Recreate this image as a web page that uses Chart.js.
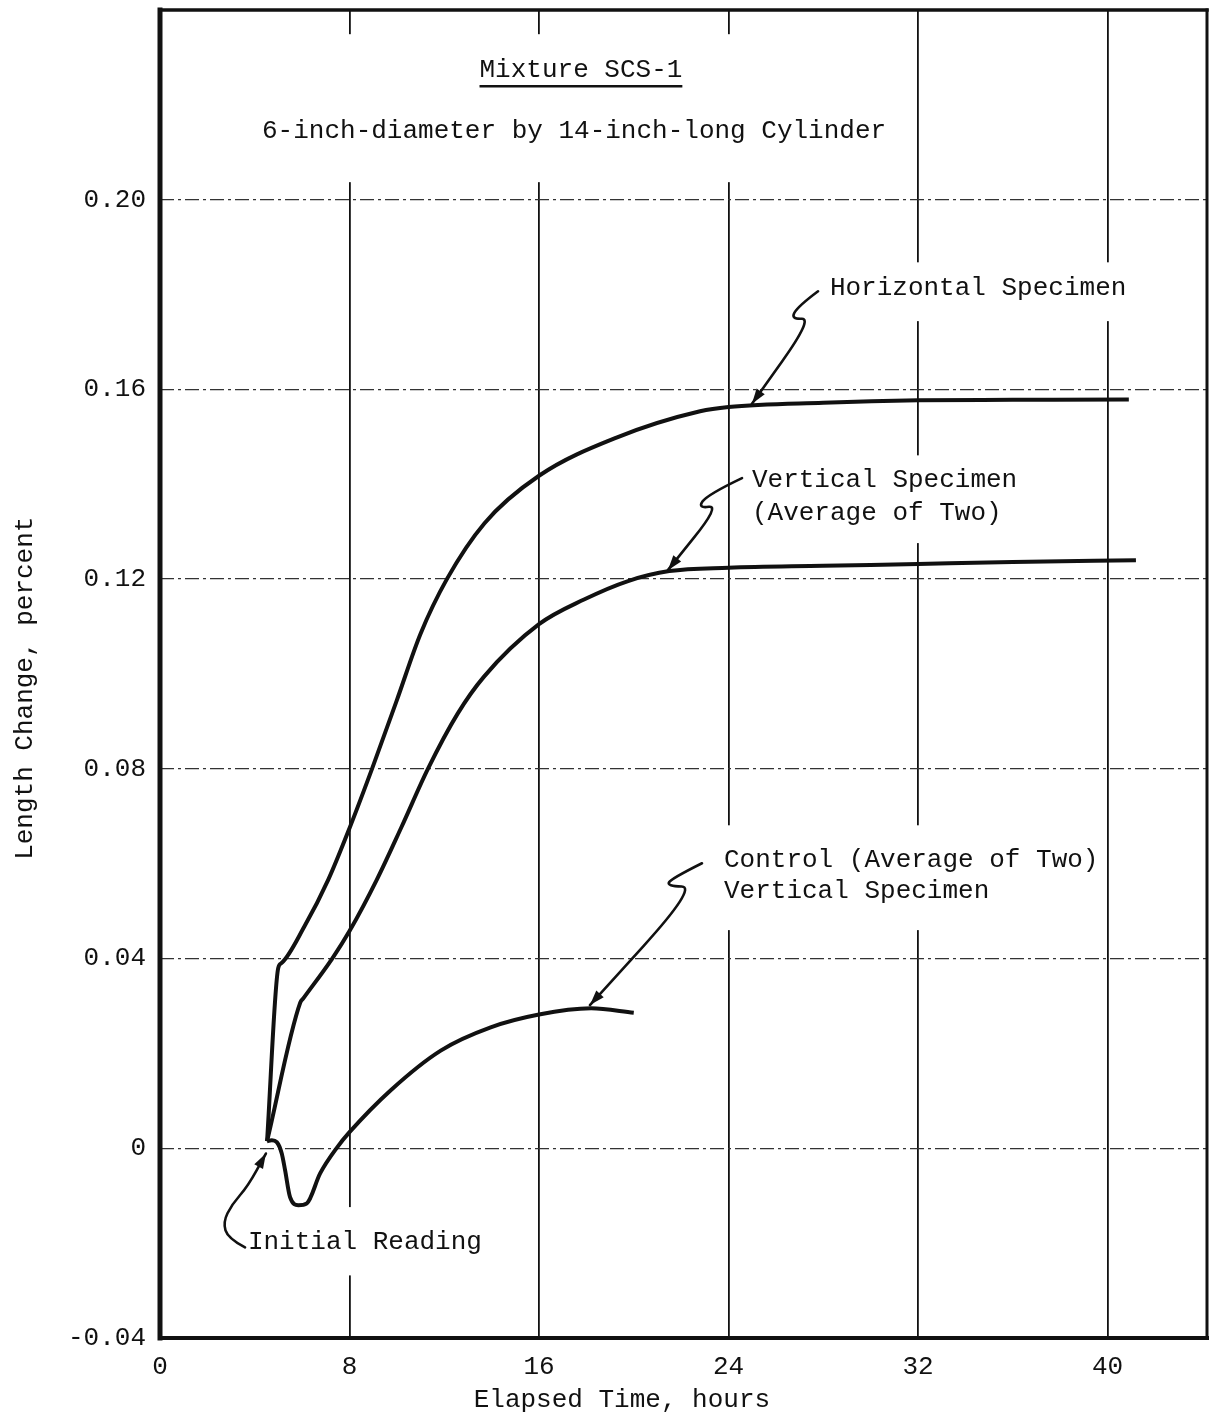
<!DOCTYPE html>
<html lang="en">
<head>
<meta charset="UTF-8">
<title>Mixture SCS-1 - Length Change</title>
<script src="https://cdn.jsdelivr.net/npm/chart.js"></script>
<style>
  html, body { margin: 0; padding: 0; background: #fff; }
  #wrap { width: 1215px; height: 1418px; }
</style>
</head>
<body>
<div id="wrap"><canvas id="lengthChart"></canvas></div>
<script>
// ticks
const xTicks = [0, 8, 16, 24, 32, 40];
const yTicks = [-0.04, 0, 0.04, 0.08, 0.12, 0.16, 0.20];
const yTickLabels = ['-0.04', '0', '0.04', '0.08', '0.12', '0.16', '0.20'];

// Horizontal Specimen
const horizontalHours  = [4.52, 4.99, 5.12, 6.1, 7.1, 8, 8.95, 10, 11, 12.11, 13.7, 16, 19.3, 22.8, 24, 28, 32, 36, 40.9];
const horizontalChange = [0.0015, 0.038, 0.039, 0.0468, 0.0566, 0.0675, 0.08, 0.0945, 0.1085, 0.12, 0.1318, 0.1418, 0.1499, 0.1554, 0.1563, 0.1572, 0.1577, 0.1578, 0.1579];

// Vertical Specimen (Average of Two)
const verticalHours  = [4.52, 5.92, 6.05, 7.27, 8, 9.15, 10.2, 11.31, 12.56, 13.67, 16, 17.9, 19.76, 21.5, 24, 28, 32, 36, 41.2];
const verticalChange = [0.0015, 0.0307, 0.0316, 0.040, 0.0458, 0.0566, 0.0678, 0.08, 0.0916, 0.0994, 0.1105, 0.1157, 0.1196, 0.1217, 0.1224, 0.1228, 0.1232, 0.1236, 0.124];

// Control (Average of Two) Vertical Specimen
const controlHours  = [4.52, 4.72, 4.93, 5.14, 5.28, 5.49, 5.84, 6.2, 6.76, 7.48, 8, 9.73, 11.85, 13.96, 16, 18.2, 20];
const controlChange = [0.0015, 0.0017, 0.0013, -0.0011, -0.0046, -0.0103, -0.012, -0.0116, -0.0053, 0.0002, 0.0034, 0.0122, 0.0206, 0.0255, 0.0282, 0.0295, 0.0286];

const FONT = "'Liberation Mono', 'DejaVu Sans Mono', monospace";
const INK = '#111';

// white gaps cut into the vertical grid lines where the typed notes sit
const gridGaps = [
  { x0: 6, x1: 28.5, y0: 0.2037, y1: 0.2349 },
  { x0: 28.1, x1: 41.4, y0: 0.1744, y1: 0.1868 },
  { x0: 24.8, x1: 36.7, y0: 0.1276, y1: 0.1461 },
  { x0: 22.8, x1: 39.7, y0: 0.046, y1: 0.0681 },
  { x0: 6.75, x1: 13.5, y0: -0.0268, y1: -0.0124 }
];

const notes = [
  { text: 'Mixture SCS-1', x: 17.77, y: 0.2273, align: 'center', underline: true },
  { text: '6-inch-diameter by 14-inch-long Cylinder', x: 17.48, y: 0.2144, align: 'center' },
  { text: 'Horizontal Specimen', x: 28.28, y: 0.1813, align: 'left' },
  { text: 'Vertical Specimen', x: 24.99, y: 0.1408, align: 'left' },
  { text: '(Average of Two)', x: 24.99, y: 0.1339, align: 'left' },
  { text: 'Control (Average of Two)', x: 23.81, y: 0.0607, align: 'left' },
  { text: 'Vertical Specimen', x: 23.81, y: 0.0542, align: 'left' },
  { text: 'Initial Reading', x: 3.71, y: -0.0198, align: 'left' }
];

// hand drawn pointers, last point is the arrow tip
const pointers = [
  [[27.78, 0.1807], [26.95, 0.1776], [26.62, 0.1748], [27.56, 0.175], [24.99, 0.157]],
  [[24.57, 0.1413], [23.1, 0.1378], [22.7, 0.1349], [23.64, 0.1356], [21.44, 0.1219]],
  [[22.88, 0.0601], [21.6, 0.0569], [21.38, 0.0553], [22.67, 0.0551], [18.15, 0.0302]],
  [[3.59, -0.0209], [2.87, -0.019], [2.66, -0.0156], [3.04, -0.0118], [3.71, -0.008], [4.47, -0.0011]]
];

function toPoints(xs, ys) {
  return xs.map((v, i) => ({ x: v, y: ys[i] }));
}

const annotate = {
  id: 'annotate',
  beforeDatasetsDraw(chart) {
    const { ctx, scales: { x, y } } = chart;
    ctx.save();
    ctx.fillStyle = '#fff';
    gridGaps.forEach(g => {
      const a = x.getPixelForValue(g.x0), b = x.getPixelForValue(g.x1);
      const c = y.getPixelForValue(g.y1), d = y.getPixelForValue(g.y0);
      ctx.fillRect(a, c, b - a, d - c);
    });
    ctx.restore();
  },
  afterDatasetsDraw(chart) {
    const { ctx, chartArea: area, scales: { x, y } } = chart;
    ctx.save();
    ctx.strokeStyle = INK;
    ctx.lineCap = 'square';
    // frame
    const edges = [
      [area.left, area.top, area.left, area.bottom, 5],
      [area.left, area.bottom, area.right, area.bottom, 4],
      [area.left, area.top, area.right, area.top, 3.5],
      [area.right, area.top, area.right, area.bottom, 3]
    ];
    edges.forEach(e => {
      ctx.lineWidth = e[4];
      ctx.beginPath();
      ctx.moveTo(e[0], e[1]);
      ctx.lineTo(e[2], e[3]);
      ctx.stroke();
    });

    // notes
    ctx.fillStyle = INK;
    ctx.font = '26px ' + FONT;
    ctx.textBaseline = 'middle';
    notes.forEach(n => {
      const px = x.getPixelForValue(n.x), py = y.getPixelForValue(n.y);
      ctx.textAlign = n.align;
      ctx.fillText(n.text, px, py);
      if (n.underline) {
        const w = ctx.measureText(n.text).width;
        ctx.lineWidth = 2.5;
        ctx.lineCap = 'butt';
        ctx.beginPath();
        ctx.moveTo(px - w / 2, py + 16);
        ctx.lineTo(px + w / 2, py + 16);
        ctx.stroke();
      }
    });

    // pointers
    ctx.lineWidth = 2.6;
    ctx.lineCap = 'round';
    ctx.lineJoin = 'round';
    pointers.forEach(path => {
      const p = path.map(q => [x.getPixelForValue(q[0]), y.getPixelForValue(q[1])]);
      ctx.beginPath();
      ctx.moveTo(p[0][0], p[0][1]);
      for (let i = 1; i < p.length - 1; i++) {
        const mx = (p[i][0] + p[i + 1][0]) / 2, my = (p[i][1] + p[i + 1][1]) / 2;
        ctx.quadraticCurveTo(p[i][0], p[i][1], mx, my);
      }
      const tip = p[p.length - 1], prev = p[p.length - 2];
      ctx.lineTo(tip[0], tip[1]);
      ctx.stroke();
      const ang = Math.atan2(tip[1] - prev[1], tip[0] - prev[0]);
      const len = 15, half = 5;
      ctx.beginPath();
      ctx.moveTo(tip[0], tip[1]);
      ctx.lineTo(tip[0] - len * Math.cos(ang) + half * Math.sin(ang), tip[1] - len * Math.sin(ang) - half * Math.cos(ang));
      ctx.lineTo(tip[0] - len * Math.cos(ang) - half * Math.sin(ang), tip[1] - len * Math.sin(ang) + half * Math.cos(ang));
      ctx.closePath();
      ctx.fill();
    });
    ctx.restore();
  },
  afterDraw(chart) {
    const { ctx, chartArea: area, scales: { x, y } } = chart;
    ctx.save();
    ctx.fillStyle = INK;
    ctx.font = '26px ' + FONT;
    ctx.textAlign = 'center';
    ctx.textBaseline = 'middle';
    ctx.fillText('Elapsed Time, hours', x.getPixelForValue(19.5), area.bottom + 62);
    ctx.translate(25, y.getPixelForValue(0.097));
    ctx.rotate(-Math.PI / 2);
    ctx.fillText('Length Change, percent', 0, 0);
    ctx.restore();
  }
};

const lineStyle = {
  borderColor: INK,
  borderWidth: 4,
  pointRadius: 0,
  fill: false,
  cubicInterpolationMode: 'monotone'
};

new Chart(document.getElementById('lengthChart'), {
  type: 'line',
  data: {
    datasets: [
      Object.assign({ label: 'Horizontal Specimen', data: toPoints(horizontalHours, horizontalChange) }, lineStyle),
      Object.assign({ label: 'Vertical Specimen (Average of Two)', data: toPoints(verticalHours, verticalChange) }, lineStyle),
      Object.assign({ label: 'Control (Average of Two) Vertical Specimen', data: toPoints(controlHours, controlChange) }, lineStyle)
    ]
  },
  options: {
    responsive: true,
    maintainAspectRatio: false,
    animation: false,
    layout: { padding: { top: 10, right: 8, bottom: 0, left: 0 } },
    plugins: {
      legend: { display: false },
      tooltip: { enabled: false }
    },
    scales: {
      x: {
        type: 'linear',
        min: 0,
        max: 44.2,
        afterBuildTicks: s => { s.ticks = xTicks.map(v => ({ value: v })); },
        afterFit: s => { s.height = 80; s.paddingLeft = 0; s.paddingRight = 0; },
        grid: { color: INK, lineWidth: 1.8, drawTicks: false },
        border: { display: false },
        ticks: { color: INK, padding: 14, font: { family: FONT, size: 26 } }
      },
      y: {
        type: 'linear',
        min: -0.04,
        max: 0.24,
        afterBuildTicks: s => { s.ticks = yTicks.map(v => ({ value: v })); },
        afterFit: s => { s.width = 160; s.paddingTop = 0; s.paddingBottom = 0; },
        grid: { color: '#333', lineWidth: 1.3, drawTicks: false, borderDash: [14, 4, 3, 4] },
        border: { display: false, dash: [14, 4, 3, 4] },
        ticks: {
          color: INK,
          padding: 14,
          font: { family: FONT, size: 26 },
          callback: v => {
            const i = yTicks.findIndex(t => Math.abs(t - v) < 1e-9);
            return i >= 0 ? yTickLabels[i] : '';
          }
        }
      }
    }
  },
  plugins: [annotate]
});
</script>
</body>
</html>
